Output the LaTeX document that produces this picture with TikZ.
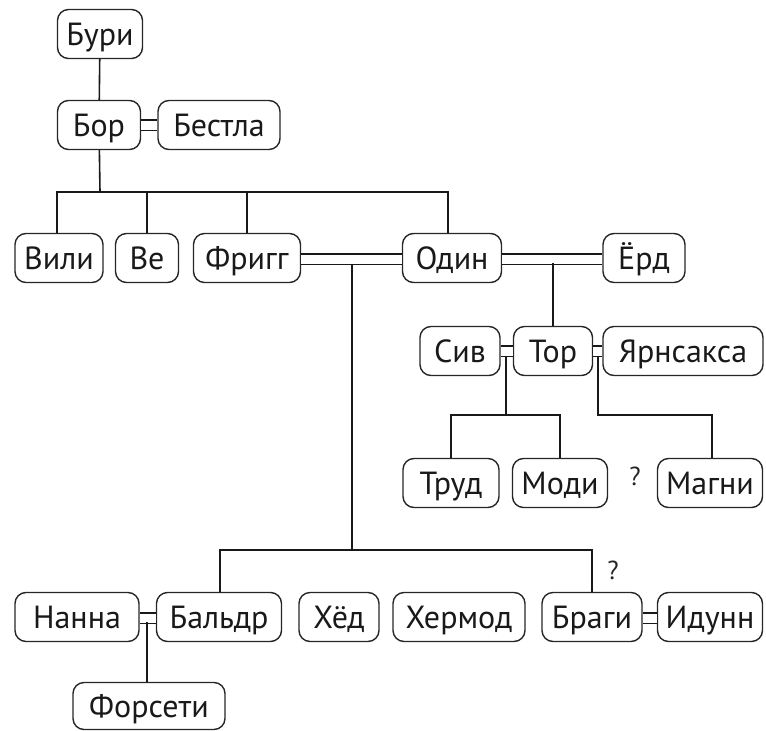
\documentclass[tikz,border=0pt]{standalone}
\usepackage{fontspec}
\setmainfont{PT Sans}
\begin{document}
\begin{tikzpicture}[x=1pt,y=-1pt,
  person/.style={draw=black!85, line width=1.4pt, rounded corners=11pt, minimum height=49pt, inner sep=0pt, font=\fontsize{32}{34}\selectfont, text=black!90, text height=22pt, text depth=0pt},
  link/.style={line width=1.6pt, draw=black!90},
  wed/.style={line width=1.5pt, double, double distance=9pt, draw=black!90},
  q/.style={font=\fontsize{26}{28}\selectfont, text=black!85}]
\useasboundingbox (0,0) rectangle (766,731);
\node[person, minimum width=85pt] (buri) at (100,34) {Бури};
\node[person, minimum width=83pt] (bor) at (99,125) {Бор};
\node[person, minimum width=122pt] (bestla) at (219,125) {Бестла};
\node[person, minimum width=88pt] (vili) at (59,258) {Вили};
\node[person, minimum width=63pt] (ve) at (147,258) {Ве};
\node[person, minimum width=107pt] (frigg) at (247,258) {Фригг};
\node[person, minimum width=99pt] (odin) at (452,258) {Один};
\node[person, minimum width=82pt] (erd) at (644,258) {Ёрд};
\node[person, minimum width=80pt] (siv) at (460,351) {Сив};
\node[person, minimum width=79pt] (tor) at (553,351) {Тор};
\node[person, minimum width=160pt] (yarn) at (683,351) {Ярнсакса};
\node[person, minimum width=96pt] (trud) at (451,483) {Труд};
\node[person, minimum width=95pt] (modi) at (560,483) {Моди};
\node[person, minimum width=105pt] (magni) at (710,483) {Магни};
\node[person, minimum width=124pt] (nanna) at (77,617) {Нанна};
\node[person, minimum width=125pt] (baldr) at (219,617) {Бальдр};
\node[person, minimum width=80pt] (hed) at (339,617) {Хёд};
\node[person, minimum width=132pt] (hermod) at (459,617) {Хермод};
\node[person, minimum width=100pt] (bragi) at (592,617) {Браги};
\node[person, minimum width=105pt] (idunn) at (710,617) {Идунн};
\node[person, minimum width=152pt, minimum height=47pt] (forseti) at (149,706) {Форсети};
\node[q] (q1) at (635,476) {?};
\node[q] (q2) at (613,570) {?};
% marriages
\draw[wed] (bor) -- (bestla);
\draw[wed] ([yshift=-1pt]frigg.east) -- ([yshift=-1pt]odin.west);
\draw[wed] ([yshift=-1pt]odin.east) -- ([yshift=-1pt]erd.west);
\draw[wed] (siv) -- (tor);
\draw[wed] (tor) -- (yarn);
\draw[wed] ([yshift=-1pt]nanna.east) -- ([yshift=-1pt]baldr.west);
\draw[wed] ([yshift=-1pt]bragi.east) -- ([yshift=-1pt]idunn.west);
% junctions
\coordinate (j1) at (100,192);
\coordinate (mfo) at (352,264);
\coordinate (j2) at (352,550);
\coordinate (moe) at (553,263);
\coordinate (mst) at (506,356);
\coordinate (j3) at (506,415);
\coordinate (mty) at (598,356);
\coordinate (j4) at (598,415);
\coordinate (mnb) at (147,622);
% lines
\draw[link] (buri) -- (bor);
\draw[link] (bor) -- (j1);
\draw[link] (vili.north -| 57,0) |- (j1);
\draw[link] (j1) -| (odin.north -| 448,0);
\draw[link] (ve.north) -- (ve.north |- j1);
\draw[link] (frigg.north) -- (frigg.north |- j1);
\draw[link] (moe) -- (tor.north);
\draw[link] (mfo) -- (j2);
\draw[link] (baldr.north -| 220,0) |- (j2);
\draw[link] (j2) -| (bragi.north);
\draw[link] (hed.north -| 338,0) -- (hed.north -| 338,550);
\draw[link] (mst) -- (j3);
\draw[link] (trud.north) |- (j3);
\draw[link] (j3) -| (modi.north);
\draw[link] (mty) -- (j4) -| (magni.north -| 712,0);
\draw[link] (mnb) -- (forseti.north -| mnb);
\end{tikzpicture}
\end{document}
